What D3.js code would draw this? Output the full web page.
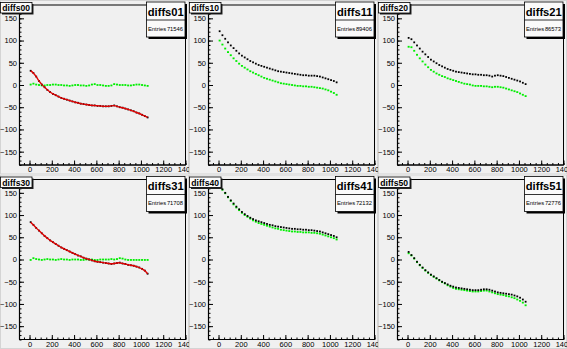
<!DOCTYPE html>
<html><head><meta charset="utf-8">
<script src="https://cdn.jsdelivr.net/npm/d3@7/dist/d3.min.js"></script>
<style>
html,body{margin:0;padding:0;background:#f0f0f0;}
svg{display:block;}
text{font-family:"Liberation Sans",Arial,sans-serif;}
</style></head>
<body>
<svg id="c" width="567" height="349"></svg>
<script>
// ---- data ----
const xs = [10,35,60,85,110,135,160,185,210,235,260,285,310,335,360,385,410,435,460,485,510,535,560,585,610,635,660,685,710,735,760,785,810,835,860,885,910,935,960,985,1010,1035,1060];

const titles = ["diffs00","diffs10","diffs20","diffs30","diffs40","diffs50"];
const statNames = ["diffs01","diffs11","diffs21","diffs31","diffs41","diffs51"];
const entries = ["71546","89406","86573","71708","72132","72776"];
const fitPanels = ["diffs00","diffs30"];

const xTicks = [0,200,400,600,800,1000,1200,1400];
const yTicks = [-150,-100,-50,0,50,100,150];

const black00 = [32,27,19,9,1,-5,-11,-16,-20,-23,-26,-29,-31,-33,-35,-37,-39,-40,-42,-43,-44,-45,-46,-46,-47,-47,-48,-48,-48,-47,-46,-48,-50,-51,-53,-55,-57,-59,-62,-64,-67,-70,-73];
const green00 = [1,3,1,0,-1,-1,0,0,1,1,0,0,-1,-1,-2,-1,0,0,-1,-1,-2,-1,1,2,0,0,-1,-2,-2,-1,2,1,0,0,0,-1,-1,0,1,1,0,-1,-2];

const black10 = [121,112,104,96,89,83,77,71,66,62,58,54,51,48,45,43,41,39,37,35,33,31,30,29,28,27,26,25,24,23,22,22,21,21,21,20,19,17,15,13,11,9,6];
const green10 = [100,91,82,74,67,60,54,48,43,39,35,31,28,25,22,19,16,14,12,10,8,6,4,3,2,1,0,-1,-2,-2,-3,-3,-4,-4,-5,-6,-7,-8,-10,-12,-15,-18,-22];

const black20 = [106,103,96,89,82,75,69,63,57,53,49,45,42,39,36,34,32,30,29,28,27,26,25,24,24,23,23,22,22,21,19,21,22,21,20,18,16,14,12,10,8,5,2];
const green20 = [86,85,77,68,60,53,46,40,34,30,26,23,20,18,15,13,11,9,7,5,3,2,1,-1,-2,-2,-2,-3,-3,-4,-5,-4,-4,-5,-6,-8,-10,-12,-14,-16,-19,-22,-25];

const black30 = [84,78,71,65,59,53,48,43,39,35,31,27,24,21,18,15,12,9,7,4,2,0,-2,-4,-5,-6,-7,-8,-9,-10,-9,-8,-7,-9,-10,-12,-13,-14,-16,-18,-21,-25,-32];
const green30 = [-1,3,1,0,-1,0,1,0,0,-1,0,1,0,0,-1,0,0,0,-1,-1,0,0,0,-1,-1,0,0,0,0,1,0,1,3,2,0,-1,-1,-1,-1,-1,-1,-1,-1];

const black40 = [165,158,150,141,133,126,119,113,107,102,98,94,91,88,86,84,82,80,78,77,75,74,73,72,71,70,69,69,68,68,67,67,66,66,65,64,63,61,59,57,55,53,50];
const green40 = [163,157,149,140,132,124,117,111,105,100,96,92,88,85,82,80,78,76,74,72,70,69,67,66,65,64,63,63,62,62,61,61,61,60,60,59,58,56,54,52,50,48,45];

const black50 = [17,10,3,-5,-12,-18,-24,-29,-34,-38,-42,-46,-50,-53,-56,-59,-61,-63,-64,-65,-66,-67,-68,-69,-69,-69,-68,-67,-67,-68,-70,-72,-74,-75,-76,-77,-78,-79,-81,-83,-86,-90,-95];
const green50 = [14,9,2,-6,-13,-19,-25,-30,-35,-39,-43,-47,-51,-54,-58,-61,-64,-66,-67,-68,-69,-70,-71,-72,-72,-72,-71,-70,-70,-72,-74,-76,-78,-79,-80,-82,-83,-85,-87,-90,-93,-97,-103];

const blackSeries = [black00,black10,black20,black30,black40,black50];
const greenSeries = [green00,green10,green20,green30,green40,green50];

// ---- layout ----
const W = 567, H = 349, cols = 3, rows = 2;
const pw = W/cols, ph = H/rows;
const mL = 19.5, mR = 3.5, mT = 5, mB = 9.5;
const fmt = d3.format("d");

const svg = d3.select("#c");
svg.append("rect").attr("width",W).attr("height",H).attr("fill","#f0f0f0");

titles.forEach((t,i)=>{
  const col = i%cols, row = Math.floor(i/cols);
  const px = col*pw, py = row*ph;
  const cid = "clip"+i;
  svg.append("clipPath").attr("id",cid).append("rect")
    .attr("x",px).attr("y",py).attr("width",pw).attr("height",ph);
  const g = svg.append("g").attr("clip-path",`url(#${cid})`);
  // pad border
  g.append("rect").attr("x",px+0.5).attr("y",py+0.5).attr("width",pw-1).attr("height",ph-1)
    .attr("fill","#f0f0f0").attr("stroke","#d4d4d4");
  const x = d3.scaleLinear().domain([-90,1400]).range([px+mL, px+pw-mR]);
  const y = d3.scaleLinear().domain([-180,180]).range([py+ph-mB, py+mT]);
  // frame
  g.append("rect").attr("x",x(-90)).attr("y",y(180)).attr("width",x(1400)-x(-90)).attr("height",y(-180)-y(180))
    .attr("fill","#f0f0f0").attr("stroke","#000").attr("stroke-width",1);
  // axes
  const fb = y(-180), fl = x(-90);
  const yMinor = d3.range(-180,181,10);
  const xMinor = d3.range(-50,1401,50);
  g.append("g").attr("transform",`translate(${fl},0)`)
    .call(d3.axisLeft(y).tickValues(yMinor).tickSize(-2).tickSizeOuter(0).tickFormat(""))
    .call(a=>a.select(".domain").remove());
  g.append("g").attr("transform",`translate(${fl},0)`)
    .call(d3.axisLeft(y).tickValues(yTicks).tickSize(-4.5).tickSizeOuter(0).tickPadding(2.5).tickFormat(fmt))
    .call(a=>a.select(".domain").remove())
    .call(a=>a.selectAll("text").attr("font-size",7.5).attr("fill","#000").attr("font-family","Liberation Sans, Arial, sans-serif"));
  g.append("g").attr("transform",`translate(0,${fb})`)
    .call(d3.axisBottom(x).tickValues(xMinor).tickSize(-2).tickSizeOuter(0).tickFormat(""))
    .call(a=>a.select(".domain").remove());
  g.append("g").attr("transform",`translate(0,${fb})`)
    .call(d3.axisBottom(x).tickValues(xTicks).tickSize(-4.5).tickSizeOuter(0).tickPadding(2).tickFormat(fmt))
    .call(a=>a.select(".domain").remove())
    .call(a=>a.selectAll("text").attr("font-size",7.5).attr("fill","#000").attr("font-family","Liberation Sans, Arial, sans-serif"));
  g.selectAll(".tick line").attr("stroke","#000");
  g.append("line").attr("x1",fl).attr("x2",fl).attr("y1",y(180)).attr("y2",fb).attr("stroke","#000").attr("stroke-width",1.2);
  g.append("line").attr("x1",fl).attr("x2",x(1400)).attr("y1",fb).attr("y2",fb).attr("stroke","#000").attr("stroke-width",1.2);

  const blk = blackSeries[i], grn = greenSeries[i];
  const ptsB = xs.map((v,k)=>[v,blk[k]]);
  const ptsG = xs.map((v,k)=>[v,grn[k]]);
  // green points
  g.append("g").selectAll("rect").data(ptsG).join("rect")
    .attr("x",d=>x(d[0])-1).attr("y",d=>y(d[1])-0.9).attr("width",2).attr("height",1.8).attr("fill","#00ee00");
  // black points
  g.append("g").selectAll("rect").data(ptsB).join("rect")
    .attr("x",d=>x(d[0])-0.9).attr("y",d=>y(d[1])-0.9).attr("width",1.8).attr("height",1.8).attr("fill","#000");
  if (fitPanels.includes(t)) {
    g.append("path").datum(ptsB)
      .attr("d",d3.line().x(d=>x(d[0])).y(d=>y(d[1])).curve(d3.curveBasis))
      .attr("fill","none").attr("stroke","#e00000").attr("stroke-width",1.4);
  }
  // title box
  const tb = g.append("g");
  tb.append("rect").attr("x",px+2).attr("y",py+4).attr("width",31.5).attr("height",10.5).attr("fill","#222");
  tb.append("rect").attr("x",px+0.5).attr("y",py+2.5).attr("width",31.5).attr("height",10.5).attr("fill","#fafafa").attr("stroke","#000").attr("stroke-width",0.8);
  tb.append("text").attr("x",px+16.2).attr("y",py+11.2).attr("text-anchor","middle")
    .attr("font-size",8.6).attr("font-weight","bold").text(t);
  // stats box
  const sx = px+146.5, sy = py+2, sw = 38.5, sh = 35;
  const sb = g.append("g");
  sb.append("rect").attr("x",sx+2).attr("y",sy+2).attr("width",sw).attr("height",sh).attr("fill","#000");
  sb.append("rect").attr("x",sx).attr("y",sy).attr("width",sw).attr("height",sh).attr("fill","#fafafa").attr("stroke","#000").attr("stroke-width",0.8);
  sb.append("line").attr("x1",sx).attr("x2",sx+sw).attr("y1",sy+18).attr("y2",sy+18).attr("stroke","#000").attr("stroke-width",0.8);
  sb.append("text").attr("x",sx+sw/2).attr("y",sy+13.5).attr("text-anchor","middle")
    .attr("font-size",11.2).attr("font-weight","bold").text(statNames[i]);
  sb.append("text").attr("x",sx+1.5).attr("y",sy+28.5).attr("font-size",5.8).text("Entries");
  sb.append("text").attr("x",sx+sw-2).attr("y",sy+28.5).attr("text-anchor","end").attr("font-size",5.8).text(entries[i]);
});
</script>
</body></html>
